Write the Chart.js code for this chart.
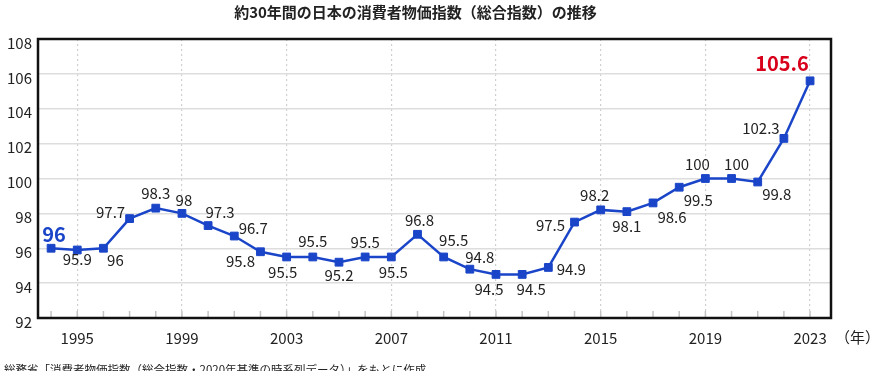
<!DOCTYPE html>
<html>
<head>
<meta charset="utf-8">
<script src="https://cdn.jsdelivr.net/npm/chart.js@4"></script>
<style>
  html, body { margin: 0; padding: 0; background: #fff; }
  #wrap { width: 871px; height: 371px; }
</style>
</head>
<body>
<div id="wrap"><canvas id="myChart"></canvas></div>
<script>
const years = [1994, 1995, 1996, 1997, 1998, 1999, 2000, 2001, 2002, 2003,
               2004, 2005, 2006, 2007, 2008, 2009, 2010, 2011, 2012, 2013,
               2014, 2015, 2016, 2017, 2018, 2019, 2020, 2021, 2022, 2023];
const cpi = [96, 95.9, 96, 97.7, 98.3, 98, 97.3, 96.7, 95.8, 95.5,
             95.5, 95.2, 95.5, 95.5, 96.8, 95.5, 94.8, 94.5, 94.5, 94.9,
             97.5, 98.2, 98.1, 98.6, 99.5, 100, 100, 99.8, 102.3, 105.6];
const xTickYears = [1995, 1999, 2003, 2007, 2011, 2015, 2019, 2023];

// where each value label sits relative to its point (px)
const labelOffsets = [
  [3, -14], [0, 9], [12, 12], [-19, -6], [0, -15], [2, -13], [12, -13], [19, -8], [-20, 10], [-4, 15],
  [0, -16], [0, 13], [0, -15], [2, 15], [2, -14], [10, -17], [10, -12], [-7, 15], [9, 15], [23, 2],
  [-24, 3], [-6, -15], [0, 15], [19, 14], [19, 13], [-8, -14], [5, -14], [19, 12], [-23, -10], [-28, -17]
];

const FONT = '"Noto Sans CJK JP", "Noto Sans", sans-serif';
const BLUE = '#1a45c8';

const valueLabels = {
  id: 'valueLabels',
  afterDatasetsDraw(chart) {
    const ctx = chart.ctx;
    const meta = chart.getDatasetMeta(0);
    ctx.save();
    ctx.textAlign = 'center';
    ctx.textBaseline = 'middle';
    meta.data.forEach((pt, i) => {
      const [dx, dy] = labelOffsets[i];
      if (i === 0) {
        ctx.font = 'bold 20px ' + FONT;
        ctx.fillStyle = BLUE;
      } else if (i === cpi.length - 1) {
        ctx.font = 'bold 20px ' + FONT;
        ctx.fillStyle = '#d9001b';
      } else {
        ctx.font = '15px ' + FONT;
        ctx.fillStyle = '#222';
      }
      ctx.fillText(String(cpi[i]), pt.x + dx, pt.y + dy);
    });
    ctx.restore();
  }
};

const frame = {
  id: 'frame',
  beforeDatasetsDraw(chart) {
    const ctx = chart.ctx;
    const a = chart.chartArea;
    const x = chart.scales.x;
    ctx.save();
    // small year ticks inside the bottom edge
    ctx.strokeStyle = '#c4c4c4';
    ctx.lineWidth = 1.5;
    years.forEach(y => {
      const px = x.getPixelForValue(y);
      ctx.beginPath();
      ctx.moveTo(px, a.bottom);
      ctx.lineTo(px, a.bottom - 7);
      ctx.stroke();
    });
    ctx.restore();
  },
  afterDraw(chart) {
    const ctx = chart.ctx;
    const a = chart.chartArea;
    ctx.save();
    ctx.strokeStyle = '#111';
    ctx.lineWidth = 2.5;
    ctx.strokeRect(a.left, a.top, a.right - a.left, a.bottom - a.top);
    ctx.fillStyle = '#222';
    ctx.font = '15px ' + FONT;
    ctx.textBaseline = 'middle';
    ctx.textAlign = 'left';
    ctx.fillText('（年）', a.right + 4, 337);
    ctx.font = '11.5px ' + FONT;
    ctx.fillText('総務省「消費者物価指数（総合指数・2020年基準の時系列データ）」をもとに作成', 4, 370);
    ctx.restore();
  }
};

const data = {
  datasets: [{
    label: '消費者物価指数',
    data: years.map((y, i) => ({ x: y, y: cpi[i] })),
    borderColor: BLUE,
    backgroundColor: BLUE,
    borderWidth: 2.5,
    pointStyle: 'rect',
    pointRadius: 5.5,
    pointHoverRadius: 5.5,
    pointBorderWidth: 1,
    tension: 0
  }]
};

const config = {
  type: 'line',
  data: data,
  options: {
    responsive: true,
    maintainAspectRatio: false,
    animation: false,
    layout: { padding: { left: 0, right: 40, top: 0, bottom: 0 } },
    plugins: {
      legend: { display: false },
      tooltip: { enabled: false },
      title: {
        display: true,
        text: '約30年間の日本の消費者物価指数（総合指数）の推移',
        color: '#222',
        font: { family: FONT, size: 15, weight: 'bold' },
        padding: { top: 3, bottom: 18 }
      }
    },
    scales: {
      x: {
        type: 'linear',
        min: 1993.5,
        max: 2023.8,
        afterBuildTicks: s => { s.ticks = xTickYears.map(v => ({ value: v })); },
        afterFit: s => { s.height = 53; },
        border: { display: false, dash: [2, 3] },
        grid: {
          color: '#cfcfcf',
          lineWidth: 1.2,
          drawTicks: false
        },
        ticks: {
          color: '#222',
          padding: 11,
          maxRotation: 0,
          autoSkip: false,
          font: { family: FONT, size: 15 },
          callback: v => String(v)
        }
      },
      y: {
        min: 92,
        max: 108,
        afterFit: s => { s.width = 38; },
        border: { display: false },
        grid: { color: '#dddddd', lineWidth: 1.5, drawTicks: false },
        ticks: {
          stepSize: 2,
          color: '#222',
          padding: 6,
          labelOffset: 4,
          font: { family: FONT, size: 15 }
        }
      }
    }
  },
  plugins: [frame, valueLabels]
};

document.addEventListener('DOMContentLoaded', () => {
  new Chart(document.getElementById('myChart'), config);
});
</script>
</body>
</html>
